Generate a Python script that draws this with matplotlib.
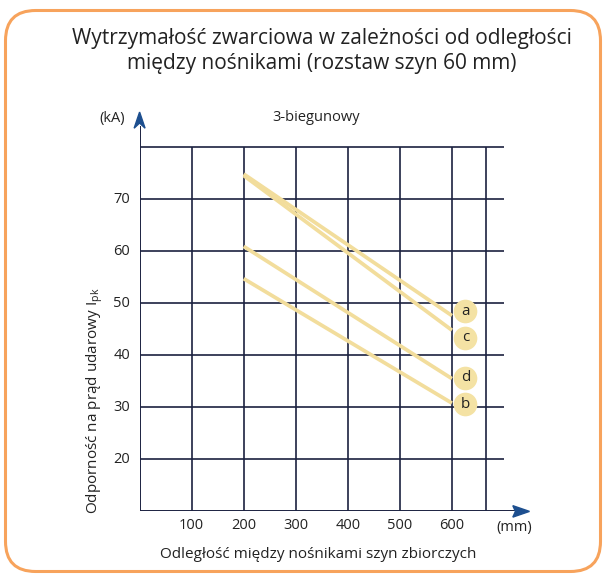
import matplotlib
matplotlib.use("Agg")
import matplotlib.pyplot as plt
from matplotlib.patches import FancyBboxPatch, Polygon

plt.rcParams['font.family'] = ['Open Sans', 'DejaVu Sans']

# --- data ---------------------------------------------------------------
curve_names = ["a", "c", "d", "b"]
span_start = [200, 200, 200, 200]           # mm
span_end = [600, 600, 600, 600]             # mm
ipk_start = [74.8, 74.5, 60.9, 54.7]        # kA
ipk_end = [47.6, 44.8, 35.5, 30.8]          # kA
label_y = [48.4, 43.4, 35.7, 30.6]          # kA, badge centres
label_x = 626                                # mm

x_ticks = [100, 200, 300, 400, 500, 600]
y_ticks = [20, 30, 40, 50, 60, 70]
x_grid = [100, 200, 300, 400, 500, 600, 665]
y_grid = [20, 30, 40, 50, 60, 70, 80]

title = "Wytrzymałość zwarciowa w zależności od odległości\nmiędzy nośnikami (rozstaw szyn 60 mm)"
subtitle = "3-biegunowy"
xlabel = "Odległość między nośnikami szyn zbiorczych"
ylabel = "Odporność na prąd udarowy I$_{\\mathregular{pk}}$"

# --- style --------------------------------------------------------------
W, H = 603, 574
grid_col = "#1b2140"
curve_col = "#f2dd9c"
badge_col = "#f4e2a4"
arrow_col = "#1d4f8f"
frame_col = "#f7a35c"
text_col = "#222222"

fig = plt.figure(figsize=(W / 100, H / 100), dpi=100)

# rounded frame
fig.patches.append(FancyBboxPatch((5.5 / W, 2.5 / H), 595 / W, 561 / H,
                                  boxstyle="round,pad=0,rounding_size=0.05",
                                  transform=fig.transFigure, facecolor="white",
                                  edgecolor=frame_col, linewidth=2.2,
                                  mutation_aspect=W / H, zorder=-5))

ax = fig.add_axes([139.6 / W, 1 - 511.4 / H, 390.4 / W, 406.1 / H])
ax.set_zorder(2)
ax.set_xlim(0, 750)
ax.set_ylim(10, 88)
ax.axis("off")

xmax_h = 700
ytop_v = 80
for gx in x_grid:
    ax.plot([gx, gx], [10, ytop_v], color=grid_col, lw=1.2, solid_capstyle="butt")
for gy in y_grid:
    ax.plot([0, xmax_h], [gy, gy], color=grid_col, lw=1.2, solid_capstyle="butt")

# axes with arrow heads
ax.plot([0, 0], [10, 84], color=grid_col, lw=1.4, solid_capstyle="butt")
ax.plot([0, 725], [10, 10], color=grid_col, lw=1.4, solid_capstyle="butt")
ax.add_patch(Polygon([[0, 86.7], [-10.5, 83.6], [0, 84.6], [10.5, 83.6]],
                     closed=True, color=arrow_col, clip_on=False, zorder=5))
ax.add_patch(Polygon([[749, 10], [717, 11.1], [722, 10], [717, 8.9]],
                     closed=True, color=arrow_col, clip_on=False, zorder=5))

# curves
for x0, x1, y0, y1 in zip(span_start, span_end, ipk_start, ipk_end):
    ax.plot([x0, x1], [y0, y1], color=curve_col, lw=2.7, solid_capstyle="butt", zorder=3)

# badges
for name, ly in zip(curve_names, label_y):
    ax.scatter([label_x], [ly], s=290, color=badge_col, zorder=4, linewidths=0)
    ax.text(label_x, ly, name, ha="center", va="center", fontsize=11, color=text_col, zorder=5)

for t in x_ticks:
    ax.text(t, 7.3, str(t), ha="center", va="center", fontsize=10.5, color=text_col)
for t in y_ticks:
    ax.text(-18, t, str(t), ha="right", va="center", fontsize=10.5, color=text_col)

ax.text(-53, 85.5, "(kA)", ha="center", va="center", fontsize=10.5, color=text_col)
ax.text(720, 6.9, "(mm)", ha="center", va="center", fontsize=10.5, color=text_col)
ax.text(340, 85.7, subtitle, ha="center", va="center", fontsize=10.5, color=text_col)

fig.text(318 / W, 1 - 555 / H, xlabel, ha="center", va="center", fontsize=11, color=text_col)
fig.text(95 / W, 1 - 401 / H, ylabel, ha="center", va="center", rotation=90,
         fontsize=11, color=text_col)
fig.text(322 / W, 1 - 51 / H, title, ha="center", va="center", fontsize=15,
         color=text_col, linespacing=1.2)

fig.savefig("out.png", dpi=100)
